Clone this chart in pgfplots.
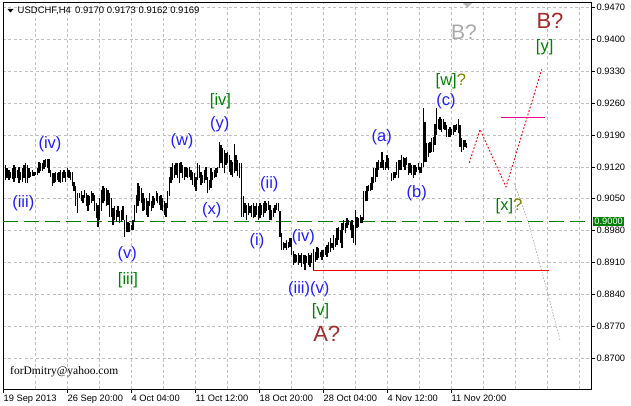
\documentclass[border=0pt]{standalone}
\usepackage{pgfplots}
\usepackage{pgfplotstable}
\pgfplotsset{compat=1.18}
\usepackage{fontspec}
\setmainfont{Liberation Sans}
\newfontfamily\serifF{Liberation Serif}
\newcommand{\fs}[1]{\fontsize{#1}{#1}\selectfont}
\definecolor{wblue}{RGB}{30,30,255}
\definecolor{wgreen}{RGB}{0,128,0}
\definecolor{qolive}{RGB}{128,128,0}
\definecolor{wbrown}{RGB}{165,42,42}
\definecolor{wgrey}{RGB}{169,169,169}
\definecolor{gridc}{RGB}{192,192,192}
\definecolor{fgrey}{RGB}{160,160,160}

\pgfplotstableread{
x lo hi
5.3 0.9091 0.9124
7.0 0.9095 0.9117
9.0 0.9091 0.9113
10.7 0.9095 0.9109
12.3 0.9093 0.9117
14.0 0.9087 0.9124
15.7 0.9095 0.9120
17.3 0.9095 0.9113
19.0 0.9084 0.9120
20.7 0.9091 0.9109
22.3 0.9087 0.9117
24.0 0.9095 0.9124
25.7 0.9085 0.9129
27.3 0.9084 0.9124
29.0 0.9095 0.9117
30.7 0.9098 0.9109
32.3 0.9100 0.9113
34.0 0.9100 0.9109
35.7 0.9102 0.9109
37.3 0.9102 0.9117
39.0 0.9106 0.9131
40.7 0.9110 0.9128
42.3 0.9110 0.9128
44.0 0.9115 0.9134
45.7 0.9120 0.9137
47.3 0.9117 0.9137
49.0 0.9106 0.9137
50.7 0.9098 0.9113
52.3 0.9077 0.9106
54.0 0.9084 0.9106
55.7 0.9087 0.9109
57.3 0.9091 0.9106
59.0 0.9087 0.9109
60.7 0.9084 0.9112
62.3 0.9087 0.9109
64.0 0.9095 0.9113
65.7 0.9087 0.9109
67.3 0.9098 0.9117
69.0 0.9095 0.9113
70.7 0.9091 0.9109
72.3 0.9077 0.9109
74.0 0.9066 0.9087
75.7 0.9033 0.9077
77.3 0.9018 0.9062
79.7 0.9051 0.9062
81.3 0.9044 0.9066
83.0 0.9040 0.9058
84.7 0.9051 0.9069
86.3 0.9033 0.9062
88.0 0.9022 0.9058
89.7 0.9036 0.9055
91.3 0.9040 0.9066
93.0 0.9044 0.9062
94.7 0.9022 0.9058
96.3 0.9007 0.9040
98.0 0.8989 0.9036
99.7 0.9003 0.9051
101.3 0.9022 0.9069
103.0 0.9040 0.9077
104.7 0.9044 0.9073
106.3 0.9033 0.9073
108.0 0.9036 0.9069
109.7 0.9011 0.9062
111.3 0.9011 0.9051
113.0 0.8992 0.9029
114.7 0.9003 0.9033
116.3 0.9000 0.9025
118.0 0.9011 0.9033
119.7 0.8996 0.9022
121.3 0.9000 0.9025
123.0 0.9003 0.9033
124.7 0.8965 0.9003
126.3 0.8978 0.9014
128.0 0.8978 0.9000
129.7 0.8978 0.8996
131.3 0.8981 0.8992
133.0 0.8981 0.9003
134.7 0.9000 0.9036
136.3 0.9018 0.9058
138.0 0.9033 0.9084
139.7 0.9044 0.9077
141.3 0.9040 0.9073
143.0 0.9022 0.9062
144.7 0.9025 0.9051
146.3 0.9014 0.9051
148.0 0.9011 0.9044
149.7 0.9033 0.9062
151.3 0.9022 0.9044
153.0 0.9029 0.9055
154.7 0.9036 0.9051
156.3 0.9044 0.9066
157.7 0.9040 0.9062
159.3 0.9036 0.9055
161.0 0.9025 0.9058
162.7 0.9022 0.9051
164.3 0.9014 0.9044
166.0 0.9011 0.9040
167.7 0.9029 0.9066
169.3 0.9055 0.9098
171.0 0.9084 0.9120
172.7 0.9091 0.9128
174.3 0.9095 0.9124
176.0 0.9102 0.9128
177.7 0.9095 0.9128
179.3 0.9084 0.9128
181.0 0.9106 0.9131
182.7 0.9095 0.9124
184.3 0.9091 0.9120
186.0 0.9098 0.9120
187.7 0.9095 0.9117
189.3 0.9098 0.9120
191.0 0.9091 0.9113
192.7 0.9080 0.9109
194.3 0.9076 0.9106
196.0 0.9066 0.9098
197.7 0.9091 0.9128
199.3 0.9095 0.9124
201.0 0.9080 0.9109
202.7 0.9084 0.9102
204.3 0.9084 0.9113
206.0 0.9091 0.9120
207.7 0.9062 0.9098
209.3 0.9069 0.9091
211.0 0.9073 0.9117
212.7 0.9091 0.9109
214.3 0.9095 0.9113
216.0 0.9098 0.9117
217.7 0.9106 0.9120
219.3 0.9117 0.9175
221.0 0.9128 0.9168
222.7 0.9117 0.9161
224.3 0.9106 0.9157
226.0 0.9124 0.9150
227.7 0.9128 0.9153
229.3 0.9109 0.9146
231.0 0.9102 0.9135
232.7 0.9098 0.9131
234.3 0.9106 0.9171
236.0 0.9110 0.9146
237.7 0.9100 0.9135
239.3 0.9095 0.9128
241.3 0.9011 0.9128
243.3 0.9011 0.9055
245.0 0.9018 0.9040
246.7 0.9003 0.9036
248.3 0.9014 0.9040
250.0 0.9018 0.9033
251.7 0.9011 0.9036
253.3 0.9007 0.9040
255.0 0.9011 0.9033
256.7 0.9014 0.9040
258.3 0.9003 0.9033
260.0 0.9007 0.9040
261.7 0.9014 0.9036
263.3 0.9011 0.9040
265.0 0.9018 0.9044
266.7 0.9022 0.9040
268.3 0.9025 0.9044
270.0 0.9003 0.9036
271.7 0.9003 0.9025
273.3 0.9011 0.9029
275.0 0.9018 0.9036
276.7 0.9025 0.9040
278.3 0.9022 0.9040
280.0 0.8967 0.9022
281.7 0.8938 0.8974
283.3 0.8938 0.8956
285.0 0.8941 0.8952
286.7 0.8938 0.8960
288.3 0.8941 0.8956
290.0 0.8945 0.8963
291.7 0.8927 0.8963
293.3 0.8905 0.8935
295.0 0.8908 0.8928
296.7 0.8912 0.8926
298.3 0.8904 0.8930
300.0 0.8909 0.8926
301.7 0.8900 0.8930
303.3 0.8906 0.8927
305.0 0.8894 0.8926
306.7 0.8910 0.8924
308.3 0.8904 0.8930
310.0 0.8900 0.8926
311.7 0.8910 0.8930
313.3 0.8893 0.8940
315.3 0.8912 0.8934
317.0 0.8916 0.8945
318.7 0.8919 0.8941
320.3 0.8923 0.8934
322.0 0.8916 0.8938
323.7 0.8923 0.8938
325.3 0.8927 0.8945
327.0 0.8923 0.8949
328.7 0.8930 0.8956
330.3 0.8934 0.8963
332.0 0.8941 0.8952
333.7 0.8938 0.8971
335.3 0.8945 0.8963
337.0 0.8949 0.8985
338.7 0.8960 0.8989
340.3 0.8952 0.8981
342.0 0.8941 0.8996
343.7 0.8981 0.9003
345.3 0.8974 0.8996
347.0 0.8985 0.9007
348.7 0.8992 0.9003
350.3 0.8981 0.9000
352.0 0.8963 0.9003
353.7 0.8952 0.8992
355.3 0.8949 0.9025
357.0 0.8985 0.9011
358.7 0.8989 0.9007
360.3 0.8996 0.9014
362.0 0.8996 0.9011
363.7 0.9003 0.9066
365.3 0.9044 0.9066
367.0 0.9044 0.9077
368.7 0.9066 0.9080
370.3 0.9066 0.9084
372.0 0.9069 0.9098
373.7 0.9084 0.9117
375.3 0.9087 0.9117
377.0 0.9098 0.9131
378.7 0.9113 0.9135
380.3 0.9117 0.9131
382.0 0.9117 0.9153
383.7 0.9113 0.9135
385.3 0.9113 0.9131
387.0 0.9117 0.9146
388.7 0.9113 0.9139
391.7 0.9088 0.9106
393.3 0.9091 0.9109
395.0 0.9095 0.9109
396.7 0.9102 0.9131
398.3 0.9095 0.9135
400.0 0.9113 0.9135
401.7 0.9113 0.9146
403.3 0.9120 0.9142
405.0 0.9113 0.9139
406.7 0.9124 0.9142
408.3 0.9102 0.9128
410.0 0.9106 0.9128
411.7 0.9102 0.9124
413.3 0.9095 0.9124
415.0 0.9102 0.9124
416.7 0.9109 0.9120
418.3 0.9113 0.9128
420.0 0.9106 0.9120
421.7 0.9106 0.9128
423.3 0.9120 0.9248
425.0 0.9131 0.9219
426.7 0.9131 0.9172
428.3 0.9142 0.9172
430.0 0.9150 0.9175
431.7 0.9153 0.9183
433.3 0.9153 0.9186
435.0 0.9168 0.9215
436.7 0.9190 0.9248
438.3 0.9204 0.9226
440.0 0.9201 0.9230
441.7 0.9197 0.9226
443.3 0.9204 0.9226
445.0 0.9201 0.9219
446.7 0.9186 0.9212
448.3 0.9186 0.9204
450.0 0.9186 0.9208
451.7 0.9190 0.9204
453.3 0.9190 0.9212
455.0 0.9197 0.9212
456.7 0.9201 0.9215
458.3 0.9194 0.9226
460.0 0.9164 0.9212
461.7 0.9153 0.9183
463.3 0.9157 0.9179
465.0 0.9164 0.9179
466.7 0.9162 0.9173
}\bars

\begin{document}
\begin{tikzpicture}
\begin{axis}[
  at={(0,0)}, anchor=south west, scale only axis,
  width=588pt, height=386.6pt,
  xmin=3, xmax=591, ymin=0.86319, ymax=0.94801,
  axis line style={black, line width=0.8pt},
  xtick={3.5,67.5,131.5,195.5,259.5,323.5,387.5,451.5},
  xticklabels={19 Sep 2013,26 Sep 20:00,4 Oct 04:00,11 Oct 12:00,18 Oct 20:00,28 Oct 04:00,4 Nov 12:00,11 Nov 20:00},
  minor xtick={35.5,99.5,163.5,227.5,291.5,355.5,419.5,483.5,515.5,547.5,579.5},
  ytick={0.8700,0.8770,0.8840,0.8910,0.8980,0.9050,0.9120,0.9190,0.9260,0.9330,0.9400,0.9470},
  yticklabels={0.8700,0.8770,0.8840,0.8910,0.8980,0.9050,0.9120,0.9190,0.9260,0.9330,0.9400,0.9470},
  xtick pos=left, ytick pos=right, yticklabel pos=right,
  tick align=outside, major tick length=4pt, minor tick length=0pt,
  tick style={black, line width=0.6pt},
  xmajorgrids, xminorgrids, ymajorgrids,
  major grid style={gridc, dash pattern=on 3pt off 2.5pt, line width=0.6pt},
  minor grid style={gridc, dash pattern=on 3pt off 2.5pt, line width=0.6pt},
  xticklabel style={anchor=north west, inner xsep=0pt, inner ysep=1.5pt, font=\fs{9.3}},
  yticklabel style={anchor=west, inner xsep=1.5pt, font=\fs{9.3}},
]
\addplot[wgreen, line width=0.8pt, dash pattern=on 15pt off 6pt] coordinates {(3,0.9000) (591,0.9000)};
\addplot[draw=none, mark=none, error bars/.cd, y dir=plus, y explicit, error mark=none,
  error bar style={draw=black, line width=1.1pt}]
  table[x=x, y=lo, y error plus expr=\thisrow{hi}-\thisrow{lo}] {\bars};
\addplot[red, line width=0.9pt] coordinates {(313.3,0.8893) (548.5,0.8893)};
\addplot[magenta, line width=0.9pt] coordinates {(500.7,0.92287) (545,0.92287)};
\addplot[red, line width=0.9pt, dash pattern=on 1.8pt off 1.8pt] coordinates {(469.3,0.9129) (480,0.9202) (506,0.9076) (541.7,0.9334)};
\addplot[fgrey, line width=0.6pt, dash pattern=on 1.5pt off 1.5pt] coordinates {(514,0.90845) (528,0.9001) (545,0.8865) (560,0.8740)};
\end{axis}
\begin{scope}[shift={(-3pt,389.3pt)}, x=1pt, y=-1pt]
\fill (7.5,9) -- (13.5,9) -- (10.5,12.5) -- cycle;
\node[anchor=west, inner sep=0pt, font=\fs{9.5}] at (17.5,11) {USDCHF,H4 \,0.9170 0.9173 0.9162 0.9169};
\fill[wgrey!80] (463,3.2) -- (472,3.2) -- (467.5,7.5) -- cycle;
\node[fill=wgreen, text=white, inner sep=0pt, minimum width=31.5pt, minimum height=9.5pt, anchor=west, font=\fs{9.3}] at (592.7,221.4) {0.9000};
\begin{scope}[every node/.style={inner sep=0pt, font=\fs{16.5}, text=wblue}]
\node at (50,144) {(iv)};
\node at (23.3,203.5) {(iii)};
\node at (127.3,254) {(v)};
\node at (182,141.7) {(w)};
\node at (219.7,124) {(y)};
\node at (211.7,210) {(x)};
\node at (269.3,184) {(ii)};
\node at (257,241) {(i)};
\node at (303.3,237.5) {(iv)};
\node at (308.7,289) {(iii)(v)};
\node at (381.8,137.5) {(a)};
\node at (416.7,193) {(b)};
\node at (446,100.8) {(c)};
\end{scope}
\begin{scope}[every node/.style={inner sep=0pt, font=\fs{16.5}, text=wgreen}]
\node at (128,280) {[iii]};
\node at (220.5,100.8) {[iv]};
\node at (320.5,311.7) {[v]};
\node at (544.7,47.5) {[y]};
\node at (450.8,80.8) {[w]\textcolor{qolive}{?}};
\node at (509,206) {[x]\textcolor{qolive}{?}};
\end{scope}
\node[inner sep=0pt, font=\fs{22}, text=wbrown] at (326.7,334) {A?};
\node[inner sep=0pt, font=\fs{22}, text=wbrown] at (550,20.8) {B?};
\node[inner sep=0pt, font=\fs{21}, text=wgrey] at (464,31.7) {B?};
\node[anchor=base west, inner sep=0pt, font=\serifF\fs{11.5}] at (10,374.5) {forDmitry@yahoo.com};
\end{scope}
\pgfresetboundingbox
\path (-3pt,-16.7pt) rectangle (628pt,389.3pt);
\end{tikzpicture}
\end{document}
